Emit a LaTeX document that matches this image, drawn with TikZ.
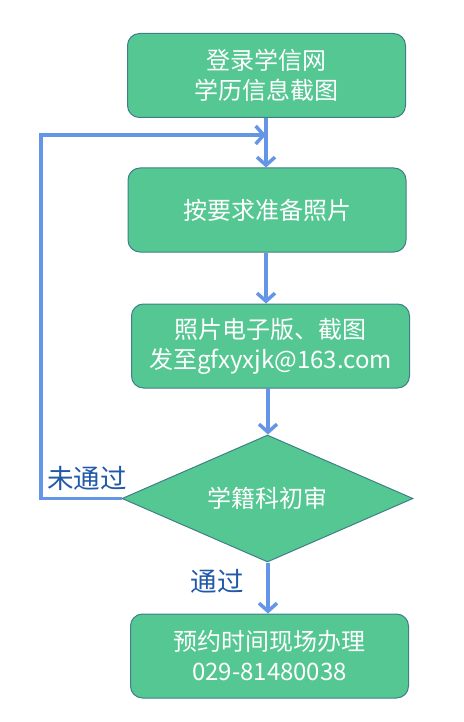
\documentclass[tikz,border=0pt]{standalone}
\usepackage{fontspec}
\newfontfamily\cjk{Noto Sans CJK SC}
\usetikzlibrary{shapes.geometric,arrows.meta}
\definecolor{boxfill}{HTML}{55C792}
\definecolor{boxdraw}{HTML}{3F7F8A}
\definecolor{linecol}{HTML}{6495E6}
\definecolor{labcol}{HTML}{2059A8}
\tikzset{
  stepbox/.style={rectangle, rounded corners=12pt, draw=boxdraw, line width=1pt, fill=boxfill,
    minimum width=278pt, minimum height=84pt, inner sep=0pt, text=white, align=center,
    font=\cjk\fontsize{24}{30}\selectfont},
  decbox/.style={diamond, draw=boxdraw, line width=1pt, fill=boxfill, aspect=2.3,
    minimum width=291pt, minimum height=127pt, inner sep=0pt, text=white,
    font=\cjk\fontsize{24}{30}\selectfont},
  conn/.style={draw=linecol, line width=3.5pt, -{Straight Barb[length=8pt,width=18pt,line width=3.5pt]}},
  plain/.style={draw=linecol, line width=3.5pt},
  lab/.style={text=labcol, font=\cjk\fontsize{26.5}{30}\selectfont, inner sep=0pt}
}
\begin{document}
\begin{tikzpicture}[x=1pt,y=-1pt]
\useasboundingbox (0,0) rectangle (463,722);
\node[stepbox] (b1) at (266.5,75.5) {登录学信网\\学历信息截图};
\node[stepbox] (b2) at (267,210) {按要求准备照片};
\node[stepbox] (b3) at (270.5,346) {照片电子版、截图\\发至gfxyxjk@163.com};
\node[decbox] (d) at (267.5,498.5) {学籍科初审};
\node[stepbox] (b5) at (269.5,656) {预约时间现场办理\\029-81480038};
\coordinate (fb) at (266,135);
\coordinate (c1) at (41,498.5);
\coordinate (c2) at (41,135);
\draw[conn] (b1.south -| fb) -- (b2.north -| fb);
\draw[conn] (b2.south -| fb) -- (b3.north -| fb);
\draw[conn] (268,388) -- (d.north -| 268,0);
\draw[conn] (d.south -| 268,0) -- (b5.north -| 268,0);
\draw[plain, line cap=butt] (d.west) -- (c1) -- (c2) -- (fb);
\draw[conn] (c2) -- (fb);
\node[lab] (l1) at (87,478) {未通过};
\node[lab] (l2) at (217,581) {通过};
\end{tikzpicture}
\end{document}
